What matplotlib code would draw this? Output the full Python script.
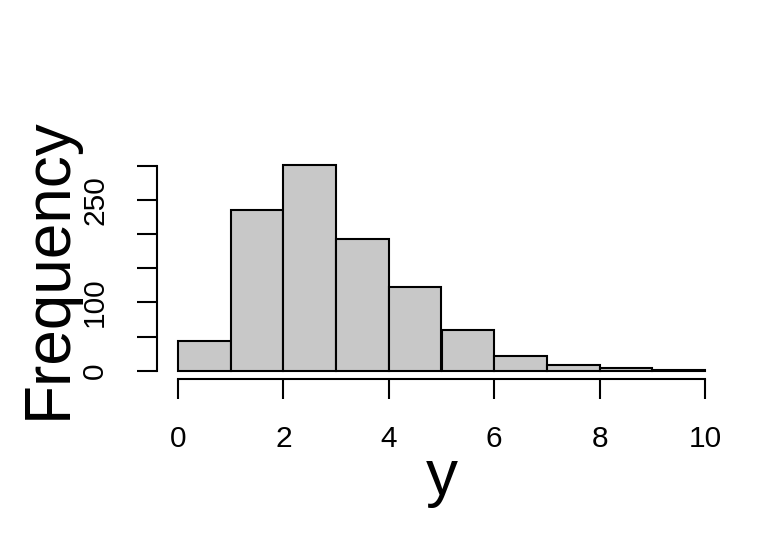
import numpy as np
import matplotlib
matplotlib.use('Agg')
import matplotlib.pyplot as plt

# histogram of y, counts
bin_edges = [0, 1, 2, 3, 4, 5, 6, 7, 8, 9, 10]
counts = [43, 235, 301, 193, 123, 59, 21, 9, 4, 1]

y_ticks = [0, 50, 100, 150, 200, 250, 300]
y_ticklabels = ['0', '', '100', '', '', '250', '']
x_ticks = [0, 2, 4, 6, 8, 10]

plt.rcParams['font.family'] = ['Liberation Sans', 'DejaVu Sans']

fig = plt.figure(figsize=(7.68, 5.37), dpi=100)
ax = fig.add_axes([157 / 768, 1 - 379 / 537, (726 - 157) / 768, (379 - 157) / 537])

left = np.array(bin_edges[:-1])
widths = np.diff(bin_edges)
ax.bar(left, counts, width=widths, align='edge', color='#c8c8c8',
       edgecolor='black', linewidth=1.5)

ymax = max(counts)
ax.set_xlim(-0.04 * 10, 10 * 1.04)
ax.set_ylim(-0.04 * ymax, ymax * 1.04)

for side in ['top', 'right']:
    ax.spines[side].set_visible(False)
ax.spines['left'].set_bounds(0, 300)
ax.spines['bottom'].set_bounds(0, 10)
for side in ['left', 'bottom']:
    ax.spines[side].set_linewidth(1.5)

ax.set_xticks(x_ticks)
ax.set_xticklabels([str(t) for t in x_ticks])
ax.set_yticks(y_ticks)
ax.set_yticklabels(y_ticklabels, rotation=90, va='center')
ax.tick_params(length=14.4, width=1.5, labelsize=21.5)
ax.tick_params(axis='x', pad=19)
ax.tick_params(axis='y', pad=20)

ax.set_xlabel('y', fontsize=46, labelpad=-4)
ax.set_ylabel('Frequency', fontsize=46, labelpad=2)

fig.savefig('out.png', dpi=100)
